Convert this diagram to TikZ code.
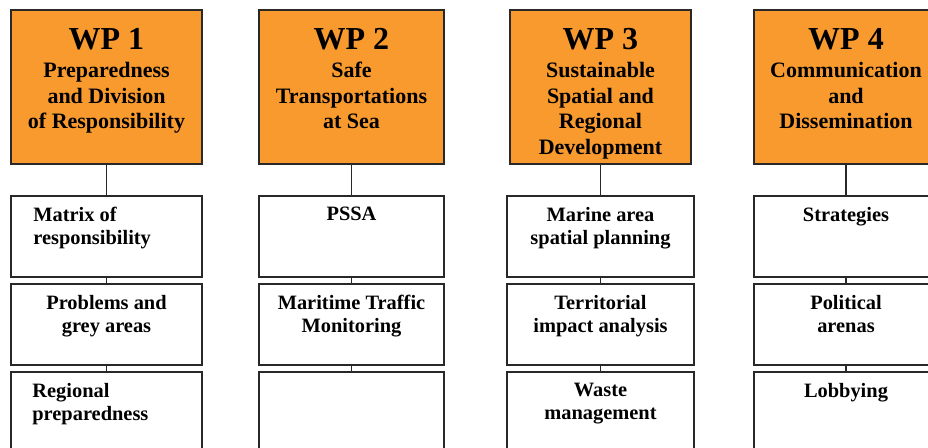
\documentclass[tikz,border=0pt]{standalone}
\usepackage{fontspec}
\setmainfont{Liberation Serif}
\usepackage{tikz}
\usetikzlibrary{positioning}
\definecolor{wporange}{RGB}{248, 154, 46}
\definecolor{boxline}{RGB}{40, 40, 40}

\begin{document}
\begin{tikzpicture}[
  node distance=3.5pt and 0pt,
  every node/.style={font=\bfseries},
  wpbox/.style={rectangle, draw=boxline, line width=0.7pt, fill=wporange, minimum height=77pt, inner sep=0pt, outer sep=0pt},
  taskbox/.style={rectangle, draw=boxline, line width=0.7pt, fill=white, minimum height=40.5pt, inner sep=0pt, outer sep=0pt},
  wptext/.style={align=center, inner sep=0pt, font=\bfseries\fontsize{11}{12.9}\selectfont},
  tasktext/.style={align=center, inner sep=0pt, font=\bfseries\fontsize{10.2}{11.5}\selectfont},
  link/.style={draw=boxline, line width=0.7pt}
]

\path[use as bounding box, clip] (0,0) rectangle (464pt,-224pt);

\node[wpbox, minimum width=95.5pt] (wp1) at (53.25pt,-43.5pt) {};
\node[wpbox, minimum width=92.5pt] (wp2) at (175.75pt,-43.5pt) {};
\node[wpbox, minimum width=90.5pt] (wp3) at (300.25pt,-43.5pt) {};
\node[wpbox, minimum width=92pt] (wp4) at (423pt,-43.5pt) {};

\node[wptext, below=9pt of wp1.north] (wp1t) {{\fontsize{16}{16}\selectfont WP 1}\\[1pt]Preparedness\\and Division\\of Responsibility};
\node[wptext, below=9pt of wp2.north] (wp2t) {{\fontsize{16}{16}\selectfont WP 2}\\[1pt]Safe\\Transportations\\at Sea};
\node[wptext, below=9pt of wp3.north] (wp3t) {{\fontsize{16}{16}\selectfont WP 3}\\[1pt]Sustainable\\Spatial and\\Regional\\Development};
\node[wptext, below=9pt of wp4.north] (wp4t) {{\fontsize{16}{16}\selectfont WP 4}\\[1pt]Communication\\and\\Dissemination};

\node[taskbox, minimum width=95.5pt, below=16pt of wp1] (wp1a) {};
\node[taskbox, minimum width=95.5pt, below=of wp1a] (wp1b) {};
\node[taskbox, minimum width=95.5pt, below=of wp1b] (wp1c) {};
\node[taskbox, minimum width=92.5pt, below=16pt of wp2] (wp2a) {};
\node[taskbox, minimum width=92.5pt, below=of wp2a] (wp2b) {};
\node[taskbox, minimum width=92.5pt, below=of wp2b] (wp2c) {};
\node[taskbox, minimum width=93.5pt, below=16pt of wp3] (wp3a) {};
\node[taskbox, minimum width=93.5pt, below=of wp3a] (wp3b) {};
\node[taskbox, minimum width=93.5pt, below=of wp3b] (wp3c) {};
\node[taskbox, minimum width=92pt, below=16pt of wp4] (wp4a) {};
\node[taskbox, minimum width=92pt, below=of wp4a] (wp4b) {};
\node[taskbox, minimum width=92pt, below=of wp4b] (wp4c) {};

\node[tasktext, align=left, below right=5.5pt and 11pt of wp1a.north west] (wp1at) {Matrix of\\responsibility};
\node[tasktext, below=5.5pt of wp1b.north] (wp1bt) {Problems and\\grey areas};
\node[tasktext, align=left, below right=5.5pt and 10.5pt of wp1c.north west] (wp1ct) {Regional\\preparedness};
\node[tasktext, below=5.5pt of wp2a.north] (wp2at) {PSSA};
\node[tasktext, below=5.5pt of wp2b.north] (wp2bt) {Maritime Traffic\\Monitoring};
\node[tasktext, below=5.5pt of wp3a.north] (wp3at) {Marine area\\spatial planning};
\node[tasktext, below=5.5pt of wp3b.north] (wp3bt) {Territorial\\impact analysis};
\node[tasktext, below=5.5pt of wp3c.north] (wp3ct) {Waste\\management};
\node[tasktext, below=5.5pt of wp4a.north] (wp4at) {Strategies};
\node[tasktext, below=5.5pt of wp4b.north] (wp4bt) {Political\\arenas};
\node[tasktext, below=5.5pt of wp4c.north] (wp4ct) {Lobbying};

\draw[link] (wp1) -- (wp1a);
\draw[link] (wp1a) -- (wp1b);
\draw[link] (wp1b) -- (wp1c);
\draw[link] (wp2) -- (wp2a);
\draw[link] (wp2a) -- (wp2b);
\draw[link] (wp2b) -- (wp2c);
\draw[link] (wp3) -- (wp3a);
\draw[link] (wp3a) -- (wp3b);
\draw[link] (wp3b) -- (wp3c);
\draw[link] (wp4) -- (wp4a);
\draw[link] (wp4a) -- (wp4b);
\draw[link] (wp4b) -- (wp4c);

\end{tikzpicture}
\end{document}
